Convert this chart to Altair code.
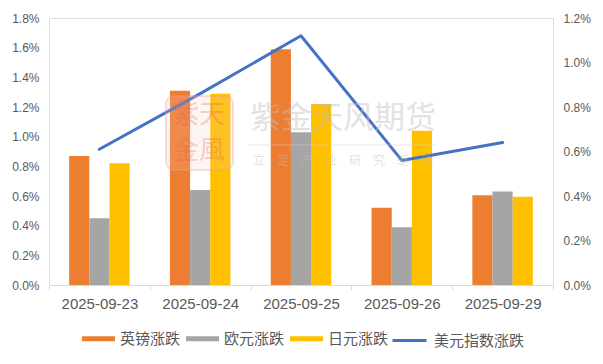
import altair as alt
import pandas as pd

dates = ["2025-09-23", "2025-09-24", "2025-09-25", "2025-09-26", "2025-09-29"]
gbp = [0.87, 1.31, 1.59, 0.52, 0.605]
eur = [0.45, 0.64, 1.03, 0.39, 0.63]
jpy = [0.82, 1.29, 1.22, 1.04, 0.595]
dxy = [0.61, 0.86, 1.12, 0.56, 0.64]
bar_series = ["英镑涨跌", "欧元涨跌", "日元涨跌"]
line_series = "美元指数涨跌"
bar_colors = ["#ED7D31", "#A5A5A5", "#FFC000"]
line_color = "#4472C4"
left_ticks = [0.0, 0.2, 0.4, 0.6, 0.8, 1.0, 1.2, 1.4, 1.6, 1.8]
right_ticks = [0.0, 0.2, 0.4, 0.6, 0.8, 1.0, 1.2]
watermark = ["紫金天风期货", "立　足　产　业　研　究　驱　动"]
seal = ["紫天", "金風"]

FONT = "Liberation Sans, Noto Sans CJK SC, sans-serif"
CJK = "Noto Sans CJK SC, sans-serif"

rows = []
for s, vals in zip(bar_series, [gbp, eur, jpy]):
    for d, v in zip(dates, vals):
        rows.append({"date": d, "series": s, "value": v})
bars_df = pd.DataFrame(rows)
line_df = pd.DataFrame({"date": dates, "value": dxy, "name": [line_series] * len(dates)})

W, H = 504, 267

x_enc = alt.X(
    "date:N",
    sort=dates,
    scale=alt.Scale(paddingInner=0, paddingOuter=0),
    axis=alt.Axis(
        title=None, labelAngle=0, tickBand="extent", domainColor="#D9D9D9",
        tickColor="#D9D9D9", tickSize=5, labelColor="#595959", labelFontSize=15,
        labelFont=FONT, labelPadding=6, grid=False,
    ),
)

bars = alt.Chart(bars_df).mark_bar().encode(
    x=x_enc,
    xOffset=alt.XOffset("series:N", sort=bar_series,
                        scale=alt.Scale(paddingInner=0, paddingOuter=1)),
    y=alt.Y(
        "value:Q",
        scale=alt.Scale(domain=[0, 1.8], nice=False, zero=True),
        axis=alt.Axis(
            orient="left", title=None, values=left_ticks,
            labelExpr="format(datum.value, '.1f') + '%'",
            domain=False, ticks=False, grid=False, labelColor="#595959",
            labelFontSize=12, labelFont=FONT, labelPadding=10,
        ),
    ),
    color=alt.Color(
        "series:N", sort=bar_series,
        scale=alt.Scale(domain=bar_series, range=bar_colors),
        legend=alt.Legend(
            title=None, orient="none", direction="horizontal",
            legendX=33, legendY=304,
            symbolType="M-1,-0.15H1V0.15H-1Z", symbolSize=1089,
            symbolStrokeWidth=0, labelOffset=5, columnPadding=5,
            labelFontSize=15, labelFont=CJK, labelColor="#595959", padding=0,
        ),
    ),
)

line = alt.Chart(line_df).mark_line(strokeWidth=3, strokeCap="round", strokeJoin="round").encode(
    x=alt.X("date:N", sort=dates),
    y=alt.Y(
        "value:Q",
        scale=alt.Scale(domain=[0, 1.2], nice=False, zero=True),
        axis=alt.Axis(
            orient="right", title=None, values=right_ticks,
            labelExpr="format(datum.value, '.1f') + '%'",
            domain=False, ticks=False, grid=False, labelColor="#595959",
            labelFontSize=12, labelFont=FONT, labelPadding=10,
        ),
    ),
    stroke=alt.Stroke(
        "name:N",
        scale=alt.Scale(domain=[line_series], range=[line_color]),
        legend=alt.Legend(
            title=None, orient="none", direction="horizontal",
            legendX=342, legendY=304,
            symbolType="stroke", symbolSize=1156, symbolStrokeWidth=3,
            labelOffset=6, labelFontSize=15, labelFont=CJK,
            labelColor="#595959", padding=0,
        ),
    ),
)

wm_df = pd.DataFrame({"t": [watermark[0]]})
wm_title = alt.Chart(wm_df).mark_text(
    font=CJK, fontSize=31, color="#BFBFBF", opacity=0.45, align="center", baseline="middle"
).encode(x=alt.value(294), y=alt.value(101), text="t:N")

wm_sub_df = pd.DataFrame({"t": [watermark[1]]})
wm_sub = alt.Chart(wm_sub_df).mark_text(
    font=CJK, fontSize=12, color="#BFBFBF", opacity=0.45, align="center", baseline="middle"
).encode(x=alt.value(294), y=alt.value(143), text="t:N")

wm_rule = alt.Chart(wm_sub_df).mark_rule(color="#D0D0D0", opacity=0.5, strokeWidth=1).encode(
    x=alt.value(199), x2=alt.value(388), y=alt.value(127)
)

seal_box = alt.Chart(wm_sub_df).mark_rect(
    fill="#F4C7C3", fillOpacity=0.18, stroke="#E8A09A", strokeOpacity=0.35,
    strokeWidth=2, cornerRadius=8
).encode(x=alt.value(117), x2=alt.value(184), y=alt.value(78), y2=alt.value(152))

seal_df = pd.DataFrame({"t": seal, "row": [0, 1]})
seal_text = alt.Chart(seal_df).mark_text(
    font=CJK, fontSize=26, color="#E06050", opacity=0.28, align="center", baseline="middle"
).encode(
    x=alt.value(150),
    y=alt.Y("row:Q", scale=alt.Scale(domain=[0, 1], range=[97, 133]), axis=None),
    text="t:N",
)

chart = alt.layer(
    bars, line, wm_title, wm_sub, wm_rule, seal_box, seal_text
).resolve_scale(y="independent").properties(
    width=W, height=H,
    autosize=alt.AutoSizeParams(type="none"),
    padding={"left": 41, "top": 10, "right": 42, "bottom": 70},
).configure_view(stroke=None).configure(background="white")

chart.save("out.html", embed_options={"renderer": "svg", "actions": False})
